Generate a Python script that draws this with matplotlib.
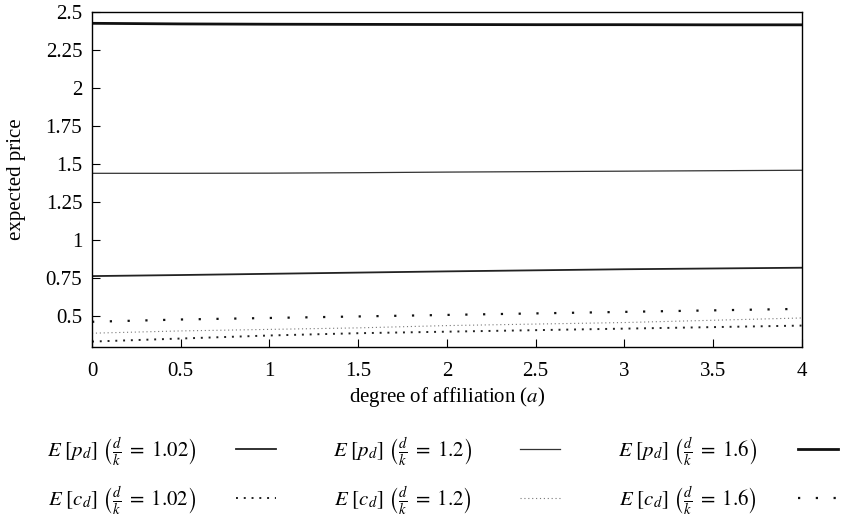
import matplotlib
matplotlib.use("Agg")
import matplotlib.pyplot as plt
from matplotlib.ticker import FuncFormatter

plt.rcParams["font.family"] = ["Liberation Serif", "DejaVu Serif"]
plt.rcParams["mathtext.fontset"] = "stix"

# degree of affiliation
a = [0, 0.5, 1, 1.5, 2, 2.5, 3, 3.5, 4]

# expected prices E[p_d]
p_102 = [0.765, 0.772, 0.780, 0.788, 0.796, 0.803, 0.810, 0.815, 0.820]
p_12 = [1.440, 1.440, 1.441, 1.444, 1.448, 1.451, 1.454, 1.457, 1.460]
p_16 = [2.425, 2.421, 2.419, 2.418, 2.417, 2.416, 2.416, 2.415, 2.415]

# expected costs E[c_d]
c_102 = [0.335, 0.355, 0.375, 0.390, 0.400, 0.410, 0.420, 0.430, 0.440]
c_12 = [0.390, 0.405, 0.415, 0.425, 0.440, 0.450, 0.460, 0.475, 0.490]
c_16 = [0.465, 0.480, 0.490, 0.500, 0.510, 0.520, 0.530, 0.540, 0.550]

ratios = ["1.02", "1.2", "1.6"]


def lab(var, r):
    return rf"$E\ [{var}_d]\ \left(\frac{{d}}{{k}}\;=\;{r}\right)$"


fig = plt.figure(figsize=(8.52, 5.17), dpi=100)
ax = fig.add_axes([0.108, 0.329, 0.833, 0.648])

cols = []
h = ax.plot(a, p_102, color="#222222", lw=1.3, label=lab("p", ratios[0]))
h += ax.plot(a, c_102, color="#222222", lw=1.4, ls=(0, (1, 3)), label=lab("c", ratios[0]))
cols.append(h)
h = ax.plot(a, p_12, color="#333333", lw=0.9, label=lab("p", ratios[1]))
h += ax.plot(a, c_12, color="#777777", lw=0.8, ls=(0, (1, 2.5)), label=lab("c", ratios[1]))
cols.append(h)
h = ax.plot(a, p_16, color="#111111", lw=2.0, label=lab("p", ratios[2]))
h += ax.plot(a, c_16, color="#111111", lw=1.6, ls=(0, (1, 7)), label=lab("c", ratios[2]))
cols.append(h)

ax.set_xlim(0, 4)
ax.set_ylim(0.3, 2.5)
ax.set_xticks([0, 0.5, 1, 1.5, 2, 2.5, 3, 3.5, 4])
ax.set_yticks([0.5, 0.75, 1, 1.25, 1.5, 1.75, 2, 2.25, 2.5])
fmt = FuncFormatter(lambda v, _: f"{v:g}")
ax.xaxis.set_major_formatter(fmt)
ax.yaxis.set_major_formatter(fmt)
ax.tick_params(direction="in", length=6, width=0.8, labelsize=15,
               top=False, right=False)
ax.tick_params(axis="x", pad=11)
ax.tick_params(axis="y", pad=7)
for s in ax.spines.values():
    s.set_linewidth(1.0)

ax.set_xlabel(r"degree of affiliation ($\mathit{a}$)", fontsize=15, labelpad=3)
ax.set_ylabel("expected price", fontsize=15, labelpad=14)

# one legend per column, text first then the line sample
col_x = [0.055, 0.391, 0.725]
col_pad = [1.9, 2.3, 2.0]
for hs, x0, pad in zip(cols, col_x, col_pad):
    leg = fig.legend(handles=hs, loc="center left", bbox_to_anchor=(x0, 0.079),
                     frameon=False, markerfirst=False, fontsize=15,
                     handlelength=1.9, handletextpad=pad, labelspacing=0.75,
                     borderpad=0, borderaxespad=0)

fig.savefig("out.png", dpi=100)
